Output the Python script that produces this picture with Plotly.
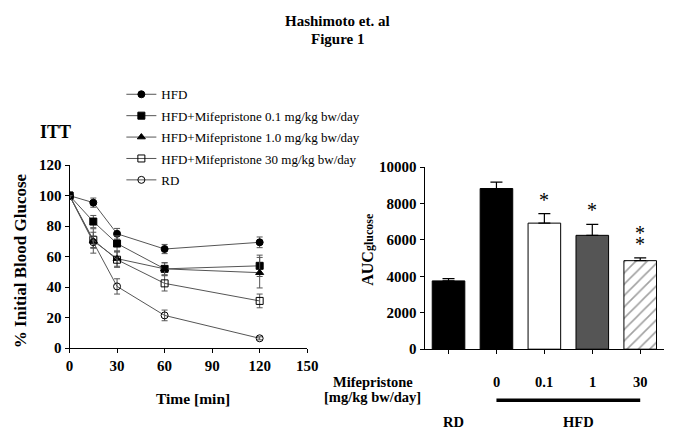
import plotly.graph_objects as go

FONT = "Liberation Serif, Times New Roman, serif"

# ITT time course (% of initial blood glucose)
time_min = [0, 15, 30, 60, 120]
series_names = [
    "HFD",
    "HFD+Mifepristone 0.1 mg/kg bw/day",
    "HFD+Mifepristone 1.0 mg/kg bw/day",
    "HFD+Mifepristone 30 mg/kg bw/day",
    "RD",
]
hfd = [100, 95.4, 75.0, 65.0, 69.4]
hfd_err = [0, 3, 3.5, 3, 3.5]
mif_01 = [100, 83.0, 68.6, 52.0, 54.0]
mif_01_err = [0, 4, 5, 4, 7]
mif_10 = [100, 70.3, 58.7, 52.0, 49.5]
mif_10_err = [0, 8, 5, 4, 10]
mif_30 = [100, 71.0, 58.0, 42.5, 31.0]
mif_30_err = [0, 5, 5, 5, 4.5]
rd = [100, 69.5, 40.5, 21.5, 6.5]
rd_err = [0, 4, 5, 3.5, 1]

# AUC glucose bars
bar_groups = ["RD", "HFD", "HFD 0.1", "HFD 1", "HFD 30"]
auc = [3750, 8820, 6920, 6250, 4860]
auc_err = [120, 350, 520, 600, 150]
star_counts = [0, 0, 1, 1, 2]
dose_labels = ["", "0", "0.1", "1", "30"]

symbols = ["circle", "square", "triangle-up", "square-open", "circle-open"]
ys = [hfd, mif_01, mif_10, mif_30, rd]
errs = [hfd_err, mif_01_err, mif_10_err, mif_30_err, rd_err]

W, H = 683, 442

fig = go.Figure()

for name, y, e, sym in zip(series_names, ys, errs, symbols):
    fig.add_trace(go.Scatter(
        x=time_min, y=y, name=name, mode="lines+markers",
        legendgroup=name,
        line=dict(color="#555555", width=1),
        marker=dict(symbol=sym, size=7, color="black",
                    line=dict(color="black", width=1)),
        error_y=dict(type="data", array=e, color="#555555",
                     thickness=1, width=3),
        xaxis="x", yaxis="y",
    ))

fig.add_trace(go.Bar(
    x=bar_groups, y=auc, showlegend=False, width=0.68,
    marker=dict(
        color=["black", "black", "white", "#555555", "white"],
        line=dict(color="black", width=1),
        pattern=dict(shape=["", "", "", "", "/"], fgcolor="black",
                     bgcolor="white", size=8, solidity=0.2),
    ),
    error_y=dict(type="data", array=auc_err, arrayminus=[0] * 5,
                 symmetric=False, color="black", thickness=1.2, width=6),
    xaxis="x2", yaxis="y2",
))

axis_common = dict(
    showline=True, linecolor="black", linewidth=1, ticks="outside",
    ticklen=4, tickcolor="black", showgrid=False, zeroline=False,
    tickfont=dict(family=FONT, size=15, color="black", weight="bold"),
)

annotations = [
    dict(text="<b>Hashimoto et. al</b>", x=341, y=14, font=dict(size=15)),
    dict(text="<b>Figure 1</b>", x=341, y=32, font=dict(size=15)),
    dict(text="<b>ITT</b>", x=53, y=129, font=dict(size=18)),
    dict(text="<b>% Initial Blood Glucose</b>", x=17, y=262, textangle=-90,
         font=dict(size=17)),
    dict(text="<b>Time [min]</b>", x=193, y=405, font=dict(size=15.5)),
    dict(text="<b>AUC<span style='font-size:12px'>glucose</span></b>",
         x=372, y=250, textangle=-90, font=dict(size=16)),
    dict(text="<b>Mifepristone</b>", x=377, y=388, font=dict(size=14.5)),
    dict(text="<b>[mg/kg bw/day]</b>", x=377, y=404, font=dict(size=14.5)),
    dict(text="<b>RD</b>", x=460, y=430, font=dict(size=14.5)),
    dict(text="<b>HFD</b>", x=587, y=430, font=dict(size=14.5)),
]
# pixel positions -> paper coords
for a in annotations:
    a["x"] = a["x"] / W
    a["y"] = 1 - a["y"] / H
    a["xref"] = "paper"
    a["yref"] = "paper"
    a["xanchor"] = "center"
    a["yanchor"] = "middle"
    a["showarrow"] = False
    a["font"] = dict(family=FONT, color="black", **a["font"])

for i, (d, n, v, e) in enumerate(zip(dose_labels, star_counts, auc, auc_err)):
    if d:
        annotations.append(dict(
            text=f"<b>{d}</b>", x=i, xref="x2", y=1 - 388 / H, yref="paper",
            xanchor="center", yanchor="middle", showarrow=False,
            font=dict(family=FONT, size=14.5, color="black")))
    for k in range(n):
        annotations.append(dict(
            text="*", x=i, xref="x2", y=v + e, yref="y2",
            xanchor="center", yanchor="middle", yshift=14 + 11 * k,
            showarrow=False, font=dict(family=FONT, size=20, color="black")))

fig.update_layout(
    width=W, height=H,
    margin=dict(l=0, r=0, t=0, b=0),
    paper_bgcolor="white", plot_bgcolor="white",
    font=dict(family=FONT, color="black"),
    xaxis=dict(domain=[67 / W, 310 / W], range=[0, 150], anchor="y",
               tickvals=[0, 30, 60, 90, 120, 150], **axis_common),
    yaxis=dict(domain=[1 - 353 / H, 1 - 163 / H], range=[0, 120],
               anchor="x", tickvals=[0, 20, 40, 60, 80, 100, 120],
               **axis_common),
    xaxis2=dict(domain=[430 / W, 675 / W], range=[-0.5, 4.5], anchor="y2",
                type="category", showticklabels=False, **axis_common),
    yaxis2=dict(domain=[1 - 354 / H, 1 - 165 / H], range=[0, 10000],
                anchor="x2", tickvals=[0, 2000, 4000, 6000, 8000, 10000],
                tickformat="d", **axis_common),
    legend=dict(x=120 / W, y=1 - 74 / H, xanchor="left", yanchor="top",
                bgcolor="rgba(0,0,0,0)", itemwidth=30, tracegroupgap=1.5,
                font=dict(family=FONT, size=13, color="black")),
    annotations=annotations,
    shapes=[dict(type="line", xref="x2", yref="paper", x0=1, x1=4,
                 y0=1 - 407 / H, y1=1 - 407 / H,
                 line=dict(color="black", width=3.5))],
)

fig.write_html("out.html", config={"displayModeBar": False},
               post_script="document.body.style.margin='0';")
